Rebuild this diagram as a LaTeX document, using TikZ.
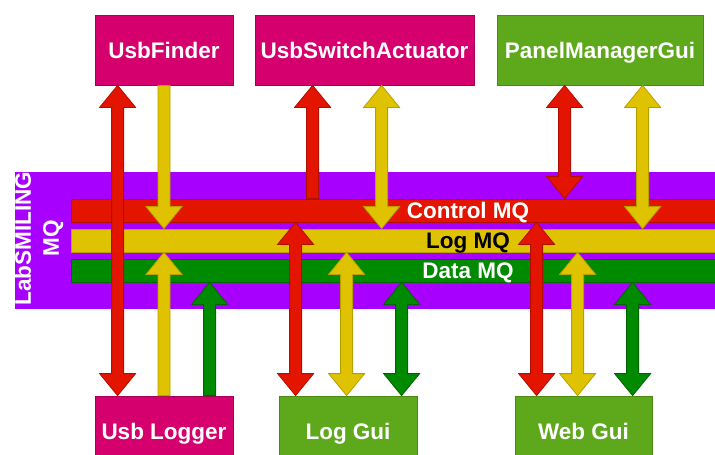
\documentclass[tikz,border=0pt]{standalone}
\usepackage{fontspec}
\setmainfont{Liberation Sans}
\usetikzlibrary{calc}
\definecolor{cmag}{HTML}{D5006E}
\definecolor{cmagD}{HTML}{A8005A}
\definecolor{cgrn}{HTML}{5EA81C}
\definecolor{cgrnD}{HTML}{4A8A14}
\definecolor{cpur}{HTML}{A800FF}
\definecolor{cred}{HTML}{E31400}
\definecolor{credD}{HTML}{B01000}
\definecolor{cyel}{HTML}{DFC300}
\definecolor{cyelD}{HTML}{B89F00}
\definecolor{cdgr}{HTML}{008A00}
\definecolor{cdgrD}{HTML}{006400}
\tikzset{
  box/.style={rectangle, minimum height=70pt, inner sep=0pt, text=white,
    text height=16.1pt, text depth=0pt, line width=0.8pt},
  magbox/.style={box, fill=cmag, draw=cmagD},
  grnbox/.style={box, fill=cgrn, draw=cgrnD},
  bar/.style={rectangle, minimum width=644pt, minimum height=23pt, inner sep=0pt, line width=0.8pt},
  lbl/.style={inner sep=0pt, text height=16.1pt, text depth=0pt},
  rarr/.style={fill=cred, draw=credD, line width=0.8pt},
  yarr/.style={fill=cyel, draw=cyelD, line width=0.8pt},
  garr/.style={fill=cdgr, draw=cdgrD, line width=0.8pt},
  fatboth/.style={to path={let \p1=(\tikztostart), \p2=(\tikztotarget),
    \p3=($(\p1)!22pt!(\p2)$), \p4=($(\p2)!22pt!(\p1)$) in
    (\p1) -- ($(\p3)!18pt!90:(\p1)$) -- ($(\p3)!6pt!90:(\p1)$)
    -- ($(\p4)!6pt!-90:(\p2)$) -- ($(\p4)!18pt!-90:(\p2)$) -- (\p2)
    -- ($(\p4)!18pt!90:(\p2)$) -- ($(\p4)!6pt!90:(\p2)$)
    -- ($(\p3)!6pt!-90:(\p1)$) -- ($(\p3)!18pt!-90:(\p1)$) -- cycle}},
  fatend/.style={to path={let \p1=(\tikztostart), \p2=(\tikztotarget),
    \p4=($(\p2)!22pt!(\p1)$) in
    ($(\p1)!6pt!-90:(\p2)$) -- ($(\p4)!6pt!-90:(\p2)$) -- ($(\p4)!18pt!-90:(\p2)$)
    -- (\p2) -- ($(\p4)!18pt!90:(\p2)$) -- ($(\p4)!6pt!90:(\p2)$)
    -- ($(\p1)!6pt!90:(\p2)$) -- cycle}},
}
\begin{document}
\begin{tikzpicture}[x=1pt, y=-1pt, font=\fontsize{22.5}{28}\selectfont\bfseries]
\useasboundingbox (0,0) rectangle (715,455);
\clip (0,0) rectangle (715,455);
\fill[white] (0,0) rectangle (715,455);

% components
\node[magbox, minimum width=138pt] (finder) at (164,50) {UsbFinder};
\node[magbox, minimum width=219pt] (switch) at (364.5,50) {UsbSwitchActuator};
\node[grnbox, minimum width=206pt] (panel) at (600,50) {PanelManagerGui};
\node[magbox, minimum width=138pt] (logger) at (164,431) {Usb Logger};
\node[grnbox, minimum width=138pt] (loggui) at (348,431) {Log Gui};
\node[grnbox, minimum width=137pt] (webgui) at (583.5,431) {Web Gui};

% bus
\node[fill=cpur, minimum width=700pt, minimum height=137.5pt, inner sep=0pt] (bus) at (365,240.25) {};
\node[rotate=90, align=center, text=white, inner sep=0pt] (buslbl) at (39,238.5) {LabSMILING\\MQ};
\node[bar, fill=cred, draw=credD] (ctl) at (393,210.5) {};
\node[bar, fill=cyel, draw=cyelD] (logq) at (393,240.5) {};
\node[bar, fill=cdgr, draw=cdgrD] (data) at (393,270.5) {};
\node[lbl, text=white] (ctlt) at (468,210.5) {Control MQ};
\node[lbl, text=black] (logt) at (468,240.5) {Log MQ};
\node[lbl, text=white] (datat) at (468,270.5) {Data MQ};

% arrow end points
\coordinate (p1t) at ([xshift=23pt]finder.south west);
\coordinate (p1b) at (p1t |- logger.north);
\coordinate (p2t) at (finder.south);
\coordinate (p2b) at (p2t |- logq.north);
\coordinate (p3t) at ([xshift=58pt]switch.south west);
\coordinate (p3b) at (p3t |- ctl.north);
\coordinate (p4t) at ([xshift=127pt]switch.south west);
\coordinate (p4b) at (p4t |- logq.north);
\coordinate (p5t) at ([xshift=68pt]panel.south west);
\coordinate (p5b) at (p5t |- ctl.north);
\coordinate (p6t) at ([xshift=146pt]panel.south west);
\coordinate (p6b) at (p6t |- logq.north);
\coordinate (p7b) at (logger.north);
\coordinate (p7t) at (p7b |- logq.south);
\coordinate (p8b) at ([xshift=115pt]logger.north west);
\coordinate (p8t) at (p8b |- data.south);
\coordinate (p9b) at ([xshift=17pt]loggui.north west);
\coordinate (p9t) at (p9b |- ctl.south);
\coordinate (p10b) at ([xshift=68pt]loggui.north west);
\coordinate (p10t) at (p10b |- logq.south);
\coordinate (p11b) at ([xshift=123pt]loggui.north west);
\coordinate (p11t) at (p11b |- data.south);
\coordinate (p12b) at ([xshift=22pt]webgui.north west);
\coordinate (p12t) at (p12b |- ctl.south);
\coordinate (p13b) at ([xshift=63pt]webgui.north west);
\coordinate (p13t) at (p13b |- logq.south);
\coordinate (p14b) at ([xshift=118pt]webgui.north west);
\coordinate (p14t) at (p14b |- data.south);

% arrows
\draw[rarr, fatboth] (p1b) to (p1t);
\draw[yarr, fatend] (p2t) to (p2b);
\draw[rarr, fatend] (p3b) to (p3t);
\draw[yarr, fatboth] (p4b) to (p4t);
\draw[rarr, fatboth] (p5b) to (p5t);
\draw[yarr, fatboth] (p6b) to (p6t);
\draw[yarr, fatend] (p7b) to (p7t);
\draw[garr, fatend] (p8b) to (p8t);
\draw[rarr, fatboth] (p9b) to (p9t);
\draw[yarr, fatboth] (p10b) to (p10t);
\draw[garr, fatboth] (p11b) to (p11t);
\draw[rarr, fatboth] (p12b) to (p12t);
\draw[yarr, fatboth] (p13b) to (p13t);
\draw[garr, fatboth] (p14b) to (p14t);
\end{tikzpicture}
\end{document}
